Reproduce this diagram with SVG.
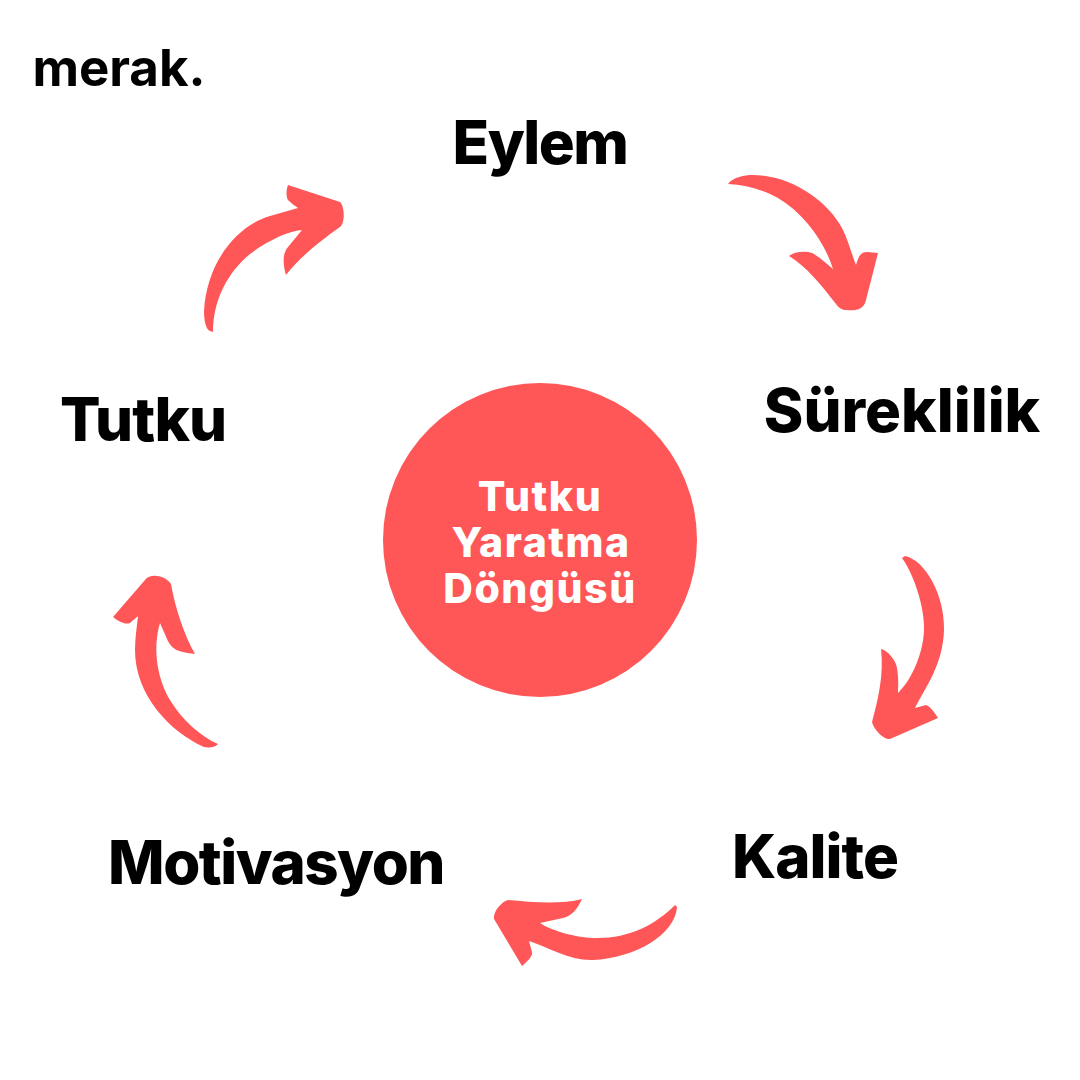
<svg xmlns="http://www.w3.org/2000/svg" width="1080" height="1080" viewBox="0 0 1080 1080">
<style>
text{font-family:Inter,"Liberation Sans",sans-serif;font-weight:800;fill:#000;text-anchor:middle}
.l{font-size:60px}
.c{font-size:41px;fill:#fff;letter-spacing:1.5px}
.a{fill:#ff5757}
</style>
<rect width="1080" height="1080" fill="#fff"/>
<g id="connectors">
<path class="a" d="M728 184C733 177 745 175 752 175C790 175 828 200 843 230C849 243 852 255 856 265C858 258 860 252 867 252L878 253L866 300C864 310 855 311 847 310C842 310 839 308 836 304C822 286 806 266 789 256C795 251 806 251 812 253C818 256 826 263 833 269C825 243 805 214 778 198C762 189 745 185 728 184Z"/>
<path class="a" d="M213 332C213 300 228 272 250 254C266 242 287 231 302 230L288 247C282 254 283 265 286 275C300 257 320 241 340 227C345 223 345 207 340 202L288 185C286 190 286 197 288 200C291 203 295 206 298 208L270 216C235 226 206 265 204 312C204 320 206 330 210 331Z"/>
<path class="a" d="M218 744C216 747 210 748 204 747C170 732 135 695 135 650C135 638 137 626 138 616L130 623C125 625 118 621 113 617L145 580C150 573 165 575 171 584C175 607 184 635 195 654C178 652 172 650 167 639L160 623C152 650 158 680 170 700C182 720 200 736 218 744Z"/>
<path class="a" d="M677 907L675 905C655 925 630 938 597 938C575 938 550 930 540 923L563 918C572 916 578 908 582 899C560 905 530 902 508 900C501 902 493 912 494 919L522 966C528 961 533 956 532 952L529 941C550 948 570 961 593 960C635 958 675 935 677 907Z"/>
<path class="a" d="M902 558L905 556C925 560 945 595 944 630C943 665 925 688 915 708L926 705C930 706 935 713 938 718L890 739C884 740 874 730 872 722C878 700 884 675 881 649C887 650 896 660 897 668C899 680 898 688 898 693C912 680 925 650 924 625C923 600 912 572 902 558Z"/>
</g>
<g id="hub">
<circle cx="540" cy="540" r="157" fill="#ff5757"/>
<text class="c" x="540" y="511">Tutku</text>
<text class="c" x="541" y="557">Yaratma</text>
<text class="c" x="540" y="603">Döngüsü</text>
</g>
<g id="brand"><text x="119" y="86" style="font-size:51px;font-weight:700">merak.</text></g>
<g id="eylem"><text class="l" x="540" y="164" style="letter-spacing:-1.5px">Eylem</text></g>
<g id="sureklilik"><text class="l" x="902" y="432">Süreklilik</text></g>
<g id="kalite"><text class="l" x="815" y="878" style="letter-spacing:-1px">Kalite</text></g>
<g id="motivasyon"><text class="l" x="276" y="884" style="letter-spacing:-1.5px">Motivasyon</text></g>
<g id="tutku"><text class="l" x="143" y="441" style="letter-spacing:-1px">Tutku</text></g>
</svg>
